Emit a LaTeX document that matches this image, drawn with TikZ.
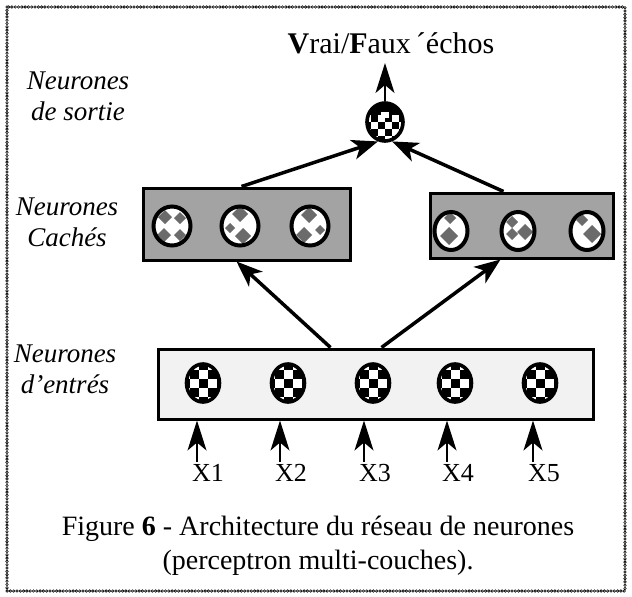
\documentclass[tikz,border=0pt]{standalone}
\usepackage{fontspec}
\setmainfont{Liberation Serif}
\usetikzlibrary{shapes.geometric, arrows.meta}

% font of a given size in pt
\newcommand\fsz[2]{\fontsize{#1}{#2}\selectfont}

% checkerboard of black squares inside a neuron (#1 = square side)
\newcommand\checkerpic[1]{%
  \foreach \i in {-3,...,2}{\foreach \j in {-3,...,2}{%
    \pgfmathtruncatemacro\chk{mod(\i+\j+6,2)}%
    \ifnum\chk=0
      \fill[black] ([xshift=\i*#1+#1/2, yshift=\j*#1+#1/2]path picture bounding box.center) rectangle ++(#1,#1);
    \fi
  }}}

% white squares in the lower part of the output neuron
\newcommand\whitecheckpic[1]{%
  \foreach \i in {-3,...,2}{\foreach \j in {-3,...,0}{%
    \pgfmathtruncatemacro\chk{mod(\i+\j+6,2)}%
    \ifnum\chk=1
      \fill[white] ([xshift=\i*#1, yshift=\j*#1]path picture bounding box.center) rectangle ++(#1,#1);
    \fi
  }}
  \fill[white] ([shift={(-4pt,4pt)}]path picture bounding box.center) rectangle ++(8pt,6pt);}

% grey diamond patch inside a hidden neuron: x, y (pixels, y down), half diagonal
\newcommand\patch[3]{%
  \fill[black!58] ([shift={(#1,#2)}]path picture bounding box.center)
    +(0,-#3) -- +(#3,0) -- +(0,#3) -- +(-#3,0) -- cycle;}

\tikzset{
  frameblack/.style={line width=3.4pt, dash pattern=on 0pt off 3.3pt, line cap=round},
  framewhite/.style={white, line width=1.2pt, dash pattern=on 0pt off 3.3pt, line cap=round},
  layerbox/.style={draw, line width=3pt, inner sep=0pt},
  hiddenbox/.style={layerbox, fill=black!36},
  inputbox/.style={layerbox, fill=black!5},
  neuron/.style={ellipse, draw, line width=3.6pt, inner sep=0pt},
  inneuron/.style={neuron, fill=white, minimum width=33pt, minimum height=38pt,
    path picture={\checkerpic{9pt}}},
  hneuronwide/.style={neuron, line width=4pt, fill=white, minimum width=37pt, minimum height=39pt},
  hneuronnarrow/.style={neuron, line width=4pt, fill=white, minimum width=33pt, minimum height=38pt},
  outneuron/.style={neuron, fill=black, minimum width=36pt, minimum height=38pt,
    path picture={\whitecheckpic{7pt}}},
  sidelabel/.style={align=center, font=\itshape\fsz{27}{31}, inner sep=0pt},
  xlabel/.style={anchor=base, font=\fsz{26}{26}, inner sep=0pt},
  bigarrow/.style={line width=3.5pt, -{Stealth[length=26pt, width=20pt, inset=7pt]}},
  thinarrow/.style={line width=1.6pt, -{Stealth[length=30pt, width=19pt, inset=8pt]}},
}

\begin{document}
\begin{tikzpicture}[x=1pt, y=-1pt]
  \useasboundingbox (0,0) rectangle (632,597);
  \fill[white] (0,0) rectangle (632,597);

  % beaded frame
  \draw[frameblack] (7,7) rectangle (625,591);
  \draw[framewhite] (7,7) rectangle (625,591);

  % title
  \node[anchor=base, font=\fsz{30}{30}, inner sep=0pt] (title) at (391,53)
    {\textbf{V}rai/\textbf{F}aux\,´échos};

  % layer labels
  \node[sidelabel] (lsortie) at (78,96) {Neurones\\de sortie};
  \node[sidelabel] (lcaches) at (67,222) {Neurones\\Cachés};
  \node[sidelabel] (lentres) at (65,369) {Neurones\\d'entrés};

  % output neuron
  \node[outneuron] (out) at (385,122) {};
  \coordinate (top) at (385,63);

  % hidden layer boxes
  \node[hiddenbox, minimum width=207pt, minimum height=72pt] (hl) at (246.5,224) {};
  \node[hiddenbox, minimum width=183pt, minimum height=65pt] (hr) at (521.5,225.5) {};

  % hidden neurons
  \node[hneuronwide, path picture={\patch{-7}{-9}{7}\patch{8}{-8}{6}\patch{-8}{9}{7}\patch{8}{9}{6}}] (h1) at (172,226) {};
  \node[hneuronwide, path picture={\patch{0}{-12}{8}\patch{-10}{2}{5}\patch{3}{10}{8}}] (h2) at (240,226) {};
  \node[hneuronwide, path picture={\patch{-1}{-11}{8}\patch{-6}{9}{8}\patch{10}{4}{5}}] (h3) at (310,226) {};
  \node[hneuronnarrow, path picture={\patch{-1}{-13}{6}\patch{-2}{5}{9}}] (h4) at (451,231) {};
  \node[hneuronnarrow, path picture={\patch{-6}{-9}{6}\patch{7}{1}{8}\patch{-6}{3}{6}}] (h5) at (518,231) {};
  \node[hneuronnarrow, path picture={\patch{-5}{-11}{6}\patch{5}{3}{9}}] (h6) at (587,231) {};

  % input layer box and neurons
  \node[inputbox, minimum width=435pt, minimum height=70pt] (inbox) at (375.5,384) {};
  \node[inneuron] (i1) at (203,383) {};
  \node[inneuron] (i2) at (288,383) {};
  \node[inneuron] (i3) at (373,383) {};
  \node[inneuron] (i4) at (455,383) {};
  \node[inneuron] (i5) at (540,383) {};

  % input arrows and their labels
  \foreach \k/\x in {1/197, 2/280, 3/364, 4/447, 5/533}{
    \coordinate (in\k) at (\x,462);
    \node[xlabel] (x\k) at (\x+11,481) {X\k};
    \draw[thinarrow] (in\k) -- (in\k |- inbox.south);
  }

  % connections between layers
  \draw[bigarrow] ([xshift=174pt]inbox.north west) -- ([xshift=95pt]hl.south west);
  \draw[bigarrow] ([xshift=225pt]inbox.north west) -- ([xshift=72pt]hr.south west);
  \draw[bigarrow] ([xshift=100pt]hl.north west) -- (out.250);
  \draw[bigarrow] ([xshift=75pt]hr.north west) -- (out.290);
  \draw[thinarrow] (out.north) -- (top);

  % caption
  \node[anchor=base, font=\fsz{28}{28}, inner sep=0pt] (cap1) at (318,535)
    {Figure \textbf{6} - Architecture du réseau de neurones};
  \node[anchor=base, font=\fsz{28}{28}, inner sep=0pt] (cap2) at (318,569)
    {(perceptron multi-couches).};
\end{tikzpicture}
\end{document}
